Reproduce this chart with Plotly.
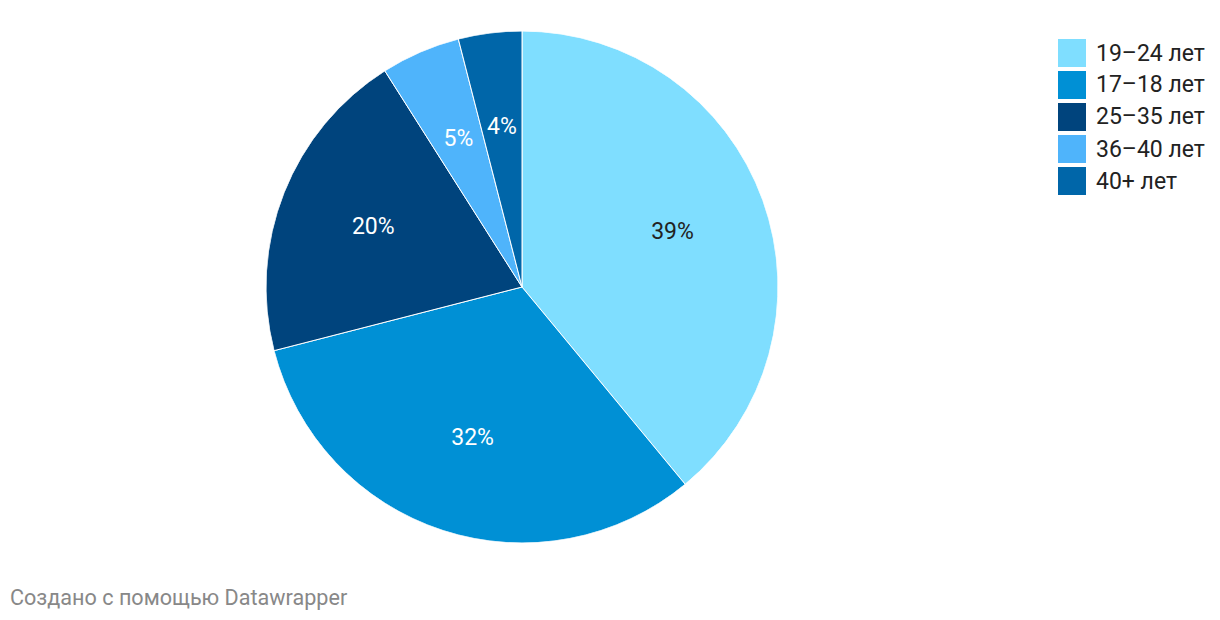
import plotly.graph_objects as go
import numpy as np

labels = ["19–24 лет", "17–18 лет", "25–35 лет", "36–40 лет", "40+ лет"]
values = [39, 32, 20, 5, 4]
colors = ["#7fdeff", "#0090d5", "#00447d", "#4fb4fb", "#0066a9"]
text_colors = ["#222222", "#ffffff", "#ffffff", "#ffffff", "#ffffff"]
footer = "Создано с помощью Datawrapper"

W, H = 1220, 620
OFF = 8  # page body margin
def px(x):
    return (x - OFF) / W
def py(y):
    return 1 - (y - OFF) / H

dom = dict(x=[px(266), px(778)], y=[py(543), py(31)])

vals = np.array(values, dtype=float)
total = vals.sum()
widths = vals / total * 360
mid_theta = (np.cumsum(vals) - vals / 2) / total * 360
pct_text = [f"{v / total * 100:.0f}%" for v in vals]

fig = go.Figure()
# pie slices as full-radius polar bars
fig.add_trace(go.Barpolar(
    r=[1] * len(vals), theta=mid_theta, width=widths, base=0,
    marker=dict(color=colors, line=dict(color="white", width=1)),
    customdata=pct_text, text=labels,
    hovertemplate="%{text}: %{customdata}<extra></extra>",
    showlegend=False,
))
# percentage labels at a fixed radius along each slice's mid-angle
fig.add_trace(go.Scatterpolar(
    r=[0.625] * len(vals), theta=mid_theta, mode="text", text=pct_text,
    textfont=dict(family="Roboto", size=23, color=text_colors),
    hoverinfo="skip", showlegend=False,
))

# legend built from the data arrays
lx0, ly0, step, sz = 1058, 39, 32, 28
for i, (lab, col) in enumerate(zip(labels, colors)):
    y_top = ly0 + i * step
    fig.add_shape(type="rect", xref="paper", yref="paper",
                  x0=px(lx0), x1=px(lx0 + sz),
                  y0=py(y_top + sz), y1=py(y_top),
                  fillcolor=col, line=dict(width=0))
    fig.add_annotation(xref="paper", yref="paper", x=px(lx0 + sz + 8),
                       y=py(y_top + sz / 2), text=lab, showarrow=False,
                       xanchor="left", yanchor="middle",
                       font=dict(family="Roboto", size=23, color="#222222"))

fig.add_annotation(xref="paper", yref="paper", x=px(8), y=py(597),
                   text=footer, showarrow=False, xanchor="left", yanchor="middle",
                   font=dict(family="Roboto", size=21.6, color="#888888"))

fig.update_layout(width=W, height=H, margin=dict(l=0, r=0, t=0, b=0),
                  paper_bgcolor="white", plot_bgcolor="white",
                  font=dict(family="Roboto"),
                  polar=dict(domain=dom, bgcolor="rgba(0,0,0,0)", bargap=0,
                             radialaxis=dict(visible=False, range=[0, 1]),
                             angularaxis=dict(visible=False, direction="clockwise",
                                              rotation=90)))
fig.write_html("out.html")
